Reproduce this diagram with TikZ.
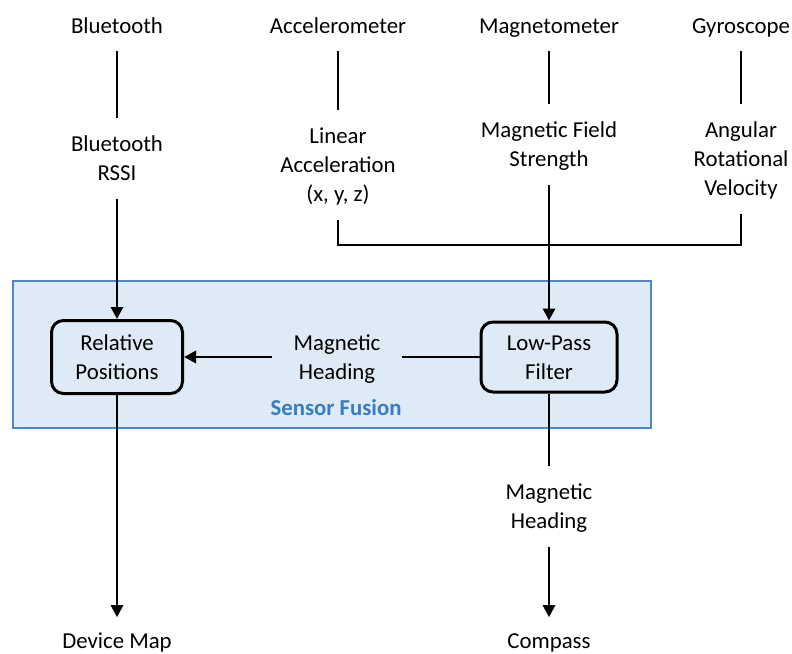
\documentclass[tikz,border=0pt]{standalone}
\usepackage{fontspec}
\setmainfont{Carlito}
\usetikzlibrary{arrows.meta}
\definecolor{fusfill}{HTML}{DEEAF6}
\definecolor{fusdraw}{HTML}{4F88C6}
\definecolor{fustext}{HTML}{3A7CC0}
\newcommand\ms{\rule[-6.7pt]{0pt}{29pt}}
\begin{document}
\begin{tikzpicture}[x=1pt,y=-1pt,
  lbl/.style={inner sep=0pt, outer xsep=0pt, outer ysep=11.5pt, align=center, font=\fontsize{22.8}{29}\selectfont},
  proc/.style={draw, line width=3pt, rounded corners=12pt, align=center, inner sep=0pt, font=\fontsize{22.8}{29}\selectfont},
  conn/.style={line width=2.9pt},
  arr/.style={conn, -{Triangle[width=12pt,length=12pt]}},
]
\useasboundingbox[fill=white] (0,0) rectangle (792,653);

% sensor fusion frame
\node[draw=fusdraw, fill=fusfill, line width=1.6pt, minimum width=638.4pt, minimum height=147.4pt, inner sep=0pt] (fus) at (332,354.5) {};
\node[lbl, text=fustext, font=\fontsize{22.8}{29}\selectfont\bfseries] (fuslbl) at (336,407.9) {\ms Sensor Fusion};

% top sensors
\node[lbl] (bt)  at (117,25.2) {\ms Bluetooth};
\node[lbl] (acc) at (338,25.2) {\ms Accelerometer};
\node[lbl] (mag) at (549,25.2) {\ms Magnetometer};
\node[lbl] (gyr) at (741,25.2) {\ms Gyroscope};

% measurements
\node[lbl] (rssi) at (117,158.4) {\ms Bluetooth\\\ms RSSI};
\node[lbl] (lin)  at (338,164.5) {\ms Linear\\\ms Acceleration\\\ms (x, y, z)};
\node[lbl] (mfs)  at (549,144)   {\ms Magnetic Field\\\ms Strength};
\node[lbl] (ang)  at (741,158.5) {\ms Angular\\\ms Rotational\\\ms Velocity};

% processing boxes
\node[proc, minimum width=131pt, minimum height=73pt] (rel) at (117,357) {\ms Relative\\\ms Positions};
\node[proc, minimum width=136pt, minimum height=70pt] (lp)  at (549,357) {\ms Low-Pass\\\ms Filter};
\node[lbl, outer xsep=22pt] (mh1) at (337,357) {\ms Magnetic\\\ms Heading};

% outputs
\node[lbl] (mh2) at (549,506) {\ms Magnetic\\\ms Heading};
\node[lbl, outer ysep=8.5pt] (dm)  at (117,640.2) {\ms Device Map};
\node[lbl, outer ysep=8.5pt] (cmp) at (549,640.2) {\ms Compass};

\coordinate (brL) at (338,245);
\coordinate (brR) at (741,245);

% connectors
\draw[conn] (bt) -- (rssi);
\draw[conn] (acc) -- (lin);
\draw[conn] (mag) -- (mfs);
\draw[conn] (gyr) -- (ang);
\draw[conn] (lin) -- (brL) -- (brR) -- (ang);
\draw[arr] (rssi) -- (rel);
\draw[arr] (mfs) -- (lp);
\draw[conn] (lp) -- (mh1);
\draw[arr] (mh1) -- (rel);
\draw[arr] (rel) -- (dm);
\draw[conn] (lp) -- (mh2);
\draw[arr] (mh2) -- (cmp);
\end{tikzpicture}
\end{document}
